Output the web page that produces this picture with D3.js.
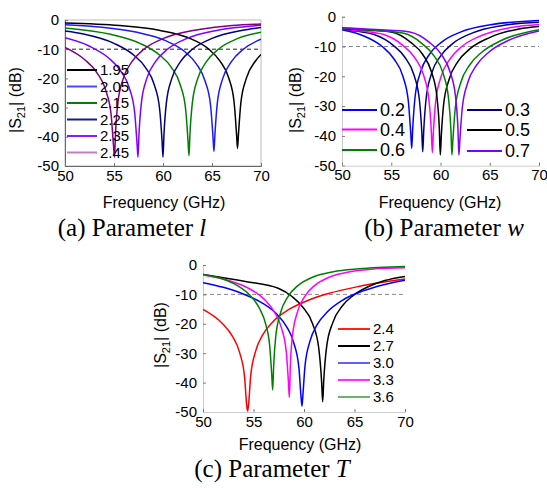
<!DOCTYPE html>
<html>
<head>
<meta charset="utf-8">
<script src="https://cdn.jsdelivr.net/npm/d3@7"></script>
<style>
body { margin: 0; background: #fff; }
</style>
</head>
<body>
<script>
// ---- data ----
var yTicks = [0, -10, -20, -30, -40, -50];
var xTicks = [50, 55, 60, 65, 70];

// (a) Parameter l
var aLabels = ["1.95", "2.05", "2.15", "2.25", "2.35", "2.45"];
var aCurves = [
  [[50,-1.0],[55.6,-1.9],[59.6,-3.5],[62.6,-6.1],[64.6,-9.8],[65.8,-14.0],[66.7,-19.8],[67.25,-28.0],[67.5,-38.9],[67.6,-44],[67.7,-39.1],[67.95,-28.2],[68.5,-20.0],[69.4,-14.2],[70,-11.8]],
  [[50,-1.6],[53.2,-2.3],[57.2,-4.1],[60.2,-7.0],[62.2,-10.8],[63.4,-15.0],[64.3,-21.0],[64.85,-29.1],[65.1,-40],[65.2,-45],[65.3,-39.1],[65.55,-28.2],[66.1,-20.0],[67.0,-14.2],[68.2,-10.0],[70,-6.6]],
  [[50,-2.7],[54.65,-4.9],[57.65,-8.0],[59.65,-12.0],[60.85,-16.2],[61.75,-22.1],[62.3,-30.3],[62.55,-41.2],[62.65,-46.5],[62.75,-39.1],[63.0,-28.2],[63.55,-20.0],[64.45,-14.2],[65.65,-10.0],[67.65,-6.3],[70,-4.2]],
  [[50,-3.8],[52,-4.9],[55,-8.0],[57,-12.0],[58.2,-16.2],[59.1,-22.1],[59.65,-30.3],[59.9,-41.2],[60,-47],[60.1,-39.1],[60.35,-28.2],[60.9,-20.0],[61.8,-14.2],[63,-10.0],[65,-6.3],[68,-3.6],[70,-2.6]],
  [[50,-6.1],[52.45,-8.9],[54.45,-13.0],[55.65,-17.3],[56.55,-23.2],[57.1,-31.4],[57.35,-42.3],[57.45,-47],[57.55,-39.1],[57.8,-28.2],[58.35,-20.0],[59.25,-14.2],[60.45,-10.0],[62.45,-6.3],[65.45,-3.6],[67.45,-2.6],[70,-1.8]],
  [[50,-9.4],[52.05,-13.7],[53.25,-18.0],[54.15,-24.0],[54.7,-32.2],[54.95,-43],[55.05,-47],[55.15,-39.1],[55.4,-28.2],[55.95,-20.0],[56.85,-14.2],[58.05,-10.0],[60.05,-6.3],[63.05,-3.6],[65.05,-2.6],[67.05,-1.9],[70,-1.4]]
];

// (b) Parameter w
var bLabels = ["0.2", "0.3", "0.4", "0.5", "0.6", "0.7"];
var bCurves = [
  [[50,-4.4],[52.08,-6.3],[54.08,-10.0],[55.28,-14.2],[56.18,-20.0],[56.73,-28.2],[56.98,-39.1],[57.08,-44.2],[57.18,-37.5],[57.43,-26.6],[57.98,-18.5],[58.88,-12.6],[60.08,-8.6],[62.08,-5.1],[65.08,-2.7],[70,-1.3]],
  [[50,-4.2],[51.6,-4.9],[53.2,-5.9],[55.2,-9.6],[56.4,-13.7],[57.3,-19.5],[57.85,-27.7],[58.1,-38.6],[58.2,-45.3],[58.3,-38.1],[58.55,-27.2],[59.1,-19.0],[60.0,-13.2],[61.2,-9.1],[63.2,-5.5],[66.2,-3.0],[70,-1.9]],
  [[50,-4.1],[52,-4.8],[54.17,-5.9],[56.17,-9.6],[57.37,-13.7],[58.27,-19.5],[58.82,-27.7],[59.07,-38.6],[59.17,-45.6],[59.27,-39.1],[59.52,-28.2],[60.07,-20.0],[60.97,-14.2],[62.17,-10.0],[64.17,-6.3],[67.17,-3.6],[70,-2.6]],
  [[50,-4.0],[52.5,-4.5],[54.98,-5.1],[56.98,-8.6],[58.18,-12.6],[59.08,-18.5],[59.63,-26.6],[59.88,-37.5],[59.98,-46.4],[60.08,-40],[60.33,-29.1],[60.88,-21.0],[61.78,-15.0],[62.98,-10.8],[64.98,-7.0],[67.98,-4.1],[70,-3.3]],
  [[50,-3.8],[53,-4.5],[56.16,-5.5],[58.16,-9.1],[59.36,-13.2],[60.26,-19.0],[60.81,-27.2],[61.06,-38.1],[61.16,-46.4],[61.26,-41.2],[61.51,-30.3],[62.06,-22.1],[62.96,-16.2],[64.16,-12.0],[66.16,-8.0],[70,-4.4]],
  [[50,-3.7],[53.5,-4.3],[56.87,-5.1],[58.87,-8.6],[60.07,-12.6],[60.97,-18.5],[61.52,-26.6],[61.77,-37.5],[61.87,-46.4],[61.97,-41.2],[62.22,-30.3],[62.77,-22.1],[63.67,-16.2],[64.87,-12.0],[66.87,-8.0],[70,-4.8]]
];

// (c) Parameter T
var cLabels = ["2.4", "2.7", "3.0", "3.3", "3.6"];
var cCurves = [
  [[50,-15.1],[51.92,-19.9],[52.92,-24.3],[53.62,-29.7],[54.12,-38.2],[54.32,-47.5],[54.42,-49.7],[54.52,-47.2],[54.72,-37.7],[55.22,-29.2],[55.92,-23.7],[56.92,-19.3],[58.42,-15.3],[60.42,-12.0],[62.42,-9.7],[65.42,-7.3],[70,-4.8]],
  [[50,-3.2],[54.2,-5.6],[57.5,-8.0],[58.85,-10.8],[59.85,-14.2],[60.85,-20.0],[61.45,-28.0],[61.75,-40],[61.85,-46.5],[61.95,-39.6],[62.25,-27.6],[62.85,-19.6],[63.85,-13.7],[64.85,-10.4],[66.35,-7.4],[68,-5.3],[70,-3.9]],
  [[50,-6.0],[52,-7.6],[53.8,-9.6],[55.8,-12.8],[57.3,-16.7],[58.3,-21.1],[59.0,-26.6],[59.5,-35.1],[59.7,-44.6],[59.8,-48],[59.9,-43.8],[60.1,-34.3],[60.6,-25.8],[61.3,-20.3],[62.3,-16.0],[63.8,-12.0],[65.8,-8.9],[67.8,-6.8],[70,-5.2]],
  [[50,-3.4],[52.55,-5.3],[54.55,-8.0],[56.05,-11.6],[57.05,-15.9],[57.75,-21.2],[58.25,-29.7],[58.45,-39.3],[58.55,-45],[58.65,-34.0],[58.85,-24.4],[59.35,-16.0],[60.05,-10.8],[61.05,-7.0],[62.55,-4.1],[64.55,-2.3],[67.05,-1.3],[70,-0.9]],
  [[50,-3.2],[51.9,-4.7],[53.4,-7.0],[54.7,-10.5],[55.6,-14.8],[56.2,-20.0],[56.6,-27.4],[56.8,-36.9],[56.9,-42.5],[57.0,-34.0],[57.2,-24.4],[57.7,-16.0],[58.4,-10.8],[59.4,-7.0],[60.9,-4.1],[62.9,-2.3],[65.4,-1.3],[70,-0.5]]
];

// ---- styles ----
var aColors = ["#000000", "#1a1aff", "#008000", "#000080", "#8000ff", "#800080"];
var aLegColors = ["#000000", "#4a4aff", "#008000", "#1a1a8a", "#8a1aff", "#c080c0"];
var bColors = ["#0000ff", "#000080", "#ff00ff", "#000000", "#008000", "#8000ff"];
var cColors = ["#ff0000", "#000000", "#0000ff", "#ff00ff", "#008000"];
var cLegColors = ["#ff2020", "#000000", "#6060ff", "#ff30ff", "#70b070"];

var W = 547, H = 488;
var svg = d3.select("body").append("svg")
  .attr("width", W).attr("height", H)
  .style("font-family", "'Liberation Sans', Arial, sans-serif");

function drawPanel(p) {
  var x = d3.scaleLinear().domain([50, 70]).range([p.x0, p.x1]);
  var y = d3.scaleLinear().domain([0, -50]).range([p.y0, p.y1]);
  var g = svg.append("g");

  g.append("clipPath").attr("id", p.id + "clip")
    .append("rect").attr("x", p.x0).attr("y", p.y0 - 1)
    .attr("width", p.x1 - p.x0).attr("height", p.y1 - p.y0 + 1);

  if (p.frame) {
    g.append("rect").attr("x", p.x0).attr("y", p.y0)
      .attr("width", p.x1 - p.x0).attr("height", p.y1 - p.y0)
      .attr("fill", "none").attr("stroke", "#bbb").attr("stroke-width", 1);
  }

  // -10 dB reference
  g.append("line")
    .attr("x1", p.x0).attr("x2", p.x1)
    .attr("y1", y(-10)).attr("y2", y(-10))
    .attr("stroke", p.dashColor).attr("stroke-width", 1)
    .attr("stroke-dasharray", "4,3");

  var yAxis = g.append("g")
    .attr("transform", "translate(" + p.x0 + ",0)")
    .call(d3.axisLeft(y).tickValues(yTicks).tickSize(-3).tickPadding(6).tickFormat(d3.format("d")));
  var xAxis = g.append("g")
    .attr("transform", "translate(0," + p.y1 + ")")
    .call(d3.axisBottom(x).tickValues(xTicks).tickSize(-3).tickPadding(4));
  [yAxis, xAxis].forEach(function(a) {
    a.select(".domain").attr("stroke", p.axisColor);
    a.selectAll(".tick line").attr("stroke", "#777");
    a.selectAll(".tick text").attr("fill", "#000")
      .style("font-size", "15px").style("font-family", "'Liberation Sans', Arial, sans-serif");
  });
  yAxis.selectAll(".tick text").text(function(d) { return d === 0 ? "0" : "-" + Math.abs(d); });

  var line = d3.line()
    .x(function(d) { return x(d[0]); })
    .y(function(d) { return y(d[1]); })
    .curve(d3.curveMonotoneX);

  g.append("g").attr("clip-path", "url(#" + p.id + "clip)")
    .selectAll("path")
    .data(p.curves)
    .enter()
    .append("path")
    .attr("d", line)
    .attr("fill", "none")
    .attr("stroke", function(d, i) { return p.colors[i]; })
    .attr("stroke-width", 1.5);

  // legend
  var leg = g.selectAll(".leg").data(p.labels).enter().append("g")
    .attr("transform", function(d, i) { return "translate(" + p.legPos[i][0] + "," + p.legPos[i][1] + ")"; });
  leg.append("line").attr("x1", 0).attr("x2", p.legLen).attr("y1", 0).attr("y2", 0)
    .attr("stroke", function(d, i) { return p.legColors[i]; }).attr("stroke-width", 2);
  leg.append("text").attr("x", p.legLen + 3).attr("y", 0).attr("dy", "0.36em")
    .style("font-size", p.legFont + "px").text(function(d) { return d; });

  // axis titles
  g.append("text").attr("x", p.xtX).attr("y", p.xtY)
    .attr("text-anchor", "middle").style("font-size", "16px").text("Frequency (GHz)");
  var yl = g.append("text")
    .attr("transform", "translate(" + p.ytX + "," + p.ytY + ") rotate(-90)")
    .attr("text-anchor", "middle").style("font-size", "16px");
  yl.append("tspan").text("|S");
  yl.append("tspan").attr("dy", 4).style("font-size", "11px").text("21");
  yl.append("tspan").attr("dy", -4).text("| (dB)");

  // caption
  var cap = g.append("text").attr("x", p.capX).attr("y", p.capY)
    .attr("text-anchor", "middle")
    .style("font-family", "'Liberation Serif', 'Times New Roman', serif")
    .style("font-size", "25px");
  cap.append("tspan").text(p.caption);
  cap.append("tspan").style("font-style", "italic").text(p.capVar);
}

drawPanel({
  id: "a", x0: 65, x1: 261, y0: 20, y1: 166, frame: true,
  axisColor: "#666", dashColor: "#222",
  curves: aCurves, colors: aColors, labels: aLabels, legColors: aLegColors,
  legPos: [[67,70],[67,86.5],[67,103],[67,119.5],[67,136],[67,152.5]], legLen: 30, legFont: 15,
  xtX: 164, xtY: 208, ytX: 21, ytY: 100,
  caption: "(a) Parameter ", capVar: "l", capX: 132, capY: 236
});

drawPanel({
  id: "b", x0: 342, x1: 539, y0: 16.7, y1: 165.7, frame: false,
  axisColor: "#ccc", dashColor: "#888",
  curves: bCurves, colors: bColors, labels: bLabels, legColors: bColors,
  legPos: [[342,110],[467,110],[342,129.5],[467,130],[342,150],[467,151]], legLen: 35, legFont: 18,
  xtX: 440, xtY: 208, ytX: 301, ytY: 100,
  caption: "(b) Parameter ", capVar: "w", capX: 444, capY: 236
});

drawPanel({
  id: "c", x0: 203, x1: 405, y0: 265, y1: 412, frame: false,
  axisColor: "#ccc", dashColor: "#888",
  curves: cCurves, colors: cColors, labels: cLabels, legColors: cLegColors,
  legPos: [[338,329],[338,346],[338,363],[338,380],[338,397]], legLen: 32, legFont: 15,
  xtX: 300, xtY: 450, ytX: 166, ytY: 335,
  caption: "(c) Parameter ", capVar: "T", capX: 272, capY: 477
});
</script>
</body>
</html>
